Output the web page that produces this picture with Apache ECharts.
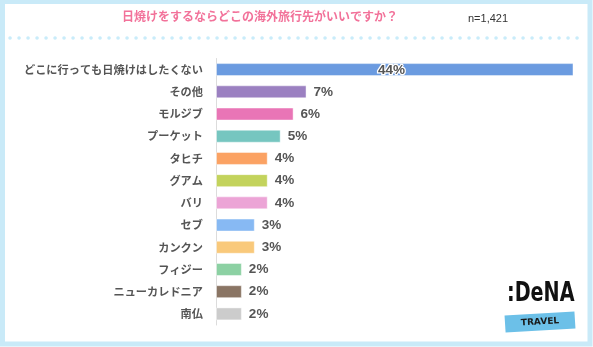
<!DOCTYPE html>
<html><head><meta charset="utf-8">
<script src="https://cdn.jsdelivr.net/npm/echarts@6/dist/echarts.min.js"></script>
<style>html,body{margin:0;padding:0;background:#fff;}#c{width:593px;height:347px;}</style>
</head><body><div id="c"></div>
<script>
const categories = ['どこに行っても日焼けはしたくない','その他','モルジブ','プーケット','タヒチ','グアム','バリ','セブ','カンクン','フィジー','ニューカレドニア','南仏'];
const values = [44,7,6,5,4,4,4,3,3,2,2,2];
const colors = ['#6b9be0','#9b80c1','#e975b6','#76c6c0','#fba263','#c3d35c','#eca4d6','#87b9f3','#f9c97b','#8cd1a3','#8a7564','#cccccc'];
const titleText = '日焼けをするならどこの海外旅行先がいいですか？';
const nText = 'n=1,421';

const chart = echarts.init(document.getElementById('c'));
const data = values.map((v,i)=>{
  const d = {value:v, itemStyle:{color:colors[i]}};
  if(i===0){
    d.label = {position:[162,7], align:'left', verticalAlign:'middle', textBorderColor:'#fff', textBorderWidth:2.5, color:'#555'};
  }
  return d;
});
chart.setOption({
  animation:false,
  grid:{left:216, right:20, top:58.5, bottom:22, containLabel:false},
  xAxis:{type:'value', min:0, max:27.6, show:false},
  yAxis:{type:'category', data:categories, inverse:true,
    axisLine:{show:true, lineStyle:{color:'#dcdcdc', width:1}},
    axisTick:{show:false},
    axisLabel:{color:'#555', fontWeight:'bold', fontSize:11.2, margin:13, fontFamily:'"Noto Sans CJK JP", sans-serif'}},
  series:[{type:'bar', data:data, barWidth:13, clip:true,
    itemStyle:{borderColor:'rgba(255,255,255,0.45)', borderWidth:1},
    label:{show:true, position:'right', distance:7, formatter:'{c}%', color:'#555', fontWeight:'bold', fontSize:13.5, fontFamily:'"Liberation Sans", Arial, sans-serif'}}],
  graphic:[
    {type:'rect', shape:{x:2.5, y:1.5, width:587.5, height:342.5}, style:{fill:'none', stroke:'#c9eaf8', lineWidth:5}, z:10},
    {type:'line', shape:{x1:10, y1:38, x2:585, y2:38}, style:{stroke:'#c9ecfa', lineWidth:3.5, lineCap:'round', lineDash:[0.1,8.9]}},
    {type:'text', left:122, top:10, style:{text:titleText, fill:'#f2729a', font:'bold 12px "Noto Sans CJK JP", sans-serif'}},
    {type:'text', left:468, top:13, style:{text:nText, fill:'#333', font:'11px "Liberation Sans", Arial, sans-serif'}},
    {type:'group', x:540, y:322, rotation:0.06, children:[
      {type:'rect', shape:{x:-35, y:-8.5, width:70, height:17}, style:{fill:'#6cc0e8'}},
      {type:'text', style:{x:0, y:0, text:'TRAVEL', align:'center', verticalAlign:'middle', fill:'#1a1a1a', font:'bold 9px "DejaVu Sans", sans-serif'}}
    ]},
    {type:'group', x:507, y:281, scaleX:0.82, children:[
      {type:'text', style:{x:0, y:0, text:':DeNA', fill:'#111', font:'bold 26px "DejaVu Sans Condensed", "DejaVu Sans", sans-serif'}}
    ]}
  ]
});
</script></body></html>
